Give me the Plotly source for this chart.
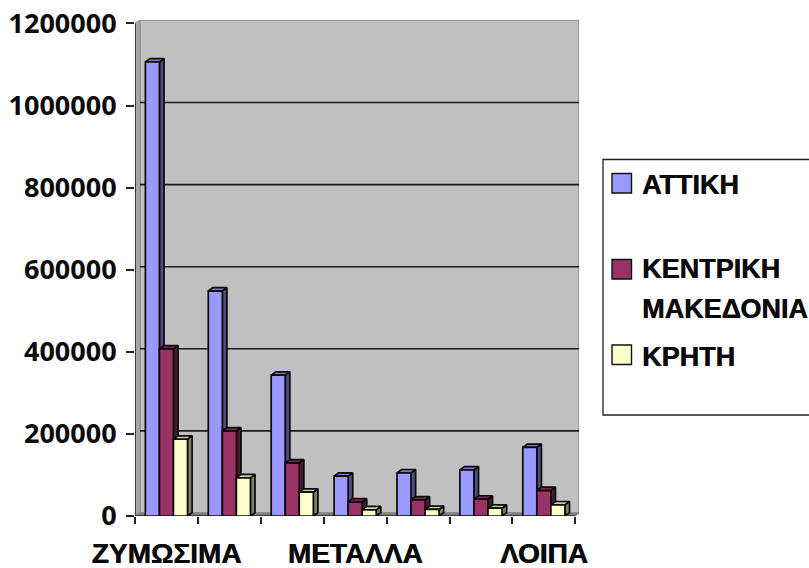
import plotly.graph_objects as go

# Shipment volumes per product group and region
categories = ["ΖΥΜΩΣΙΜΑ", "", "", "ΜΕΤΑΛΛΑ", "", "", "ΛΟΙΠΑ"]
attiki = [1106000, 548000, 343000, 97000, 105000, 112000, 167000]
kentriki = [407000, 207000, 129000, 34000, 39000, 41000, 62000]
kriti = [187000, 93000, 58000, 15000, 16000, 19000, 27000]
series_names = ["ΑΤΤΙΚΗ", "ΚΕΝΤΡΙΚΗ<br>ΜΑΚΕΔΟΝΙΑ", "ΚΡΗΤΗ"]
y_ticks = [0, 200000, 400000, 600000, 800000, 1000000, 1200000]

W, H = 809, 568
NUM_FONT = "Open Sans"
TEXT_FONT = "Liberation Sans"
INK = "#0A0A0A"
HEAVY = "0.6px 0 0 #0A0A0A"  # thickens the Greek labels a little

# Plot frame in pixels, and the fake-3D depth expressed in data units
LEFT, RIGHT, TOP, BOTTOM = 135, 579, 20, 516
PX_X = 62.9            # pixels per category
PX_Y = 82.1 / 200000   # pixels per value unit
WALL_DX = 5 / PX_X
WALL_DY = 3 / PX_Y
BAR_DX = 4.6 / PX_X
BAR_DY = 3.4 / PX_Y
X0 = -0.5
X1 = X0 + (RIGHT - LEFT) / PX_X
XF = 6.5
Y1 = (BOTTOM - TOP) / PX_Y
BARGAP = 0.33
BW = (1 - BARGAP) / 3

faces = {
    "front": ["#9999FF", "#993366", "#FFFFCC"],
    "side": ["#4D4D80", "#4D1A33", "#808066"],
    "top": ["#7A7ACC", "#7A2952", "#CCCCA3"],
}
values = [attiki, kentriki, kriti]
positions = list(range(len(categories)))


def poly(points):
    return "M" + " L".join(f"{x},{y}" for x, y in points) + " Z"


shapes = [
    # back wall, side wall and floor
    dict(type="path", layer="below", xref="x", yref="y",
         path=poly([(X0 + WALL_DX, WALL_DY), (X1, WALL_DY), (X1, Y1), (X0 + WALL_DX, Y1)]),
         fillcolor="#C0C0C0", line=dict(color="#8C8C8C", width=1.5)),
    dict(type="path", layer="below", xref="x", yref="y",
         path=poly([(X0, 0), (X0 + WALL_DX, WALL_DY), (X0 + WALL_DX, Y1), (X0, Y1 - WALL_DY)]),
         fillcolor="#A6A6A6", line=dict(color="#8C8C8C", width=1)),
    dict(type="path", layer="below", xref="x", yref="y",
         path=poly([(X0, 0), (XF, 0), (X1, WALL_DY), (X0 + WALL_DX, WALL_DY)]),
         fillcolor="#7F7F7F", line=dict(color="#7F7F7F", width=1)),
]

# Gridlines sit on the back wall, lifted by the wall depth
for tick in y_ticks[1:-1]:
    shapes.append(dict(type="line", layer="below", xref="x", yref="y",
                       x0=X0 + WALL_DX, x1=X1, y0=tick + WALL_DY, y1=tick + WALL_DY,
                       line=dict(color="#1A1A1A", width=1.6)))

# Front edges of the value and category axes
shapes.append(dict(type="line", xref="x", yref="y", x0=X0, x1=X0, y0=0, y1=1200000,
                   line=dict(color="#222222", width=1.6), layer="below"))
shapes.append(dict(type="line", xref="x", yref="y", x0=X0, x1=XF, y0=0, y1=0,
                   line=dict(color="#222222", width=1.6), layer="below"))

fig = go.Figure()

# Side and top faces go first so each bar's front covers its left neighbour's side
for s, vals in enumerate(values):
    offset = (s - 1) * BW
    for i, v in zip(positions, vals):
        xl = i + offset - BW / 2
        xr = i + offset + BW / 2
        side_x = [xr, xr + BAR_DX, xr + BAR_DX, xr, xr]
        side_y = [0, BAR_DY, v + BAR_DY, v, 0]
        top_x = [xl, xl + BAR_DX, xr + BAR_DX, xr, xl]
        top_y = [v, v + BAR_DY, v + BAR_DY, v, v]
        for fx, fy, col in ((side_x, side_y, faces["side"][s]), (top_x, top_y, faces["top"][s])):
            fig.add_trace(go.Scatter(x=fx, y=fy, mode="lines", fill="toself", fillcolor=col,
                                     line=dict(color="#0A0A0A", width=1.7),
                                     hoverinfo="skip", showlegend=False, zorder=1))

for s, vals in enumerate(values):
    fig.add_trace(go.Bar(x=positions, y=vals, name=series_names[s],
                         marker=dict(color=faces["front"][s], line=dict(color="#0A0A0A", width=1.7)),
                         showlegend=False, zorder=2))

# Hand-built legend panel, which runs off the right edge of the page
def px(x):
    return x / W


def py(y):
    return 1 - y / H


shapes.append(dict(type="rect", xref="paper", yref="paper",
                   x0=px(603), x1=px(815), y0=py(159.5), y1=py(415),
                   fillcolor="white", line=dict(color="#222222", width=1.3)))
annotations = []
swatch_top = [173.5, 259.5, 345]
label_mid = [[185], [269, 309], [356.5]]
for s, name in enumerate(series_names):
    shapes.append(dict(type="rect", xref="paper", yref="paper",
                       x0=px(612), x1=px(631.5),
                       y0=py(swatch_top[s]), y1=py(swatch_top[s] + 19.5),
                       fillcolor=faces["front"][s], line=dict(color="#111111", width=1.4)))
    # Each legend line is placed on its own to get the wide line spacing
    for line, mid in zip(name.split("<br>"), label_mid[s]):
        annotations.append(dict(xref="paper", yref="paper", x=px(640), y=py(mid),
                                text=f"<b>{line}</b>", showarrow=False, xanchor="left", yanchor="middle",
                                align="left",
                                font=dict(family=TEXT_FONT, size=27, color=INK, shadow=HEAVY)))

fig.update_layout(
    width=W, height=H,
    margin=dict(l=0, r=0, t=0, b=0, autoexpand=False),
    paper_bgcolor="white", plot_bgcolor="rgba(0,0,0,0)",
    barmode="group", bargap=BARGAP, bargroupgap=0,
    showlegend=False,
    shapes=shapes, annotations=annotations,
    font=dict(family=TEXT_FONT, color=INK),
    xaxis=dict(domain=[px(LEFT), px(RIGHT)], range=[X0, X1], showgrid=False, zeroline=False,
               automargin=False,
               showline=False, tickmode="array", tickvals=[0, 3, 6],
               ticktext=[f"<b>{categories[i]}</b>" for i in (0, 3, 6)],
               ticks="", ticklabelstandoff=18,
               tickfont=dict(family=TEXT_FONT, size=28, color=INK, shadow=HEAVY),
               minor=dict(tickmode="array", tickvals=[i - 0.5 for i in positions] + [6.5],
                          ticks="outside", ticklen=7, tickwidth=1.6, tickcolor="#222222")),
    yaxis=dict(domain=[py(BOTTOM), py(TOP)], range=[0, Y1], showgrid=False, zeroline=False,
               automargin=False,
               showline=False, tickmode="array", tickvals=y_ticks,
               ticktext=[f"<b>{t}</b>" for t in y_ticks],
               ticks="outside", ticklen=8, tickwidth=1.6, tickcolor="#222222",
               ticklabelstandoff=4, tickfont=dict(family=NUM_FONT, size=27, color=INK)),
)

fig.write_html("out.html")
